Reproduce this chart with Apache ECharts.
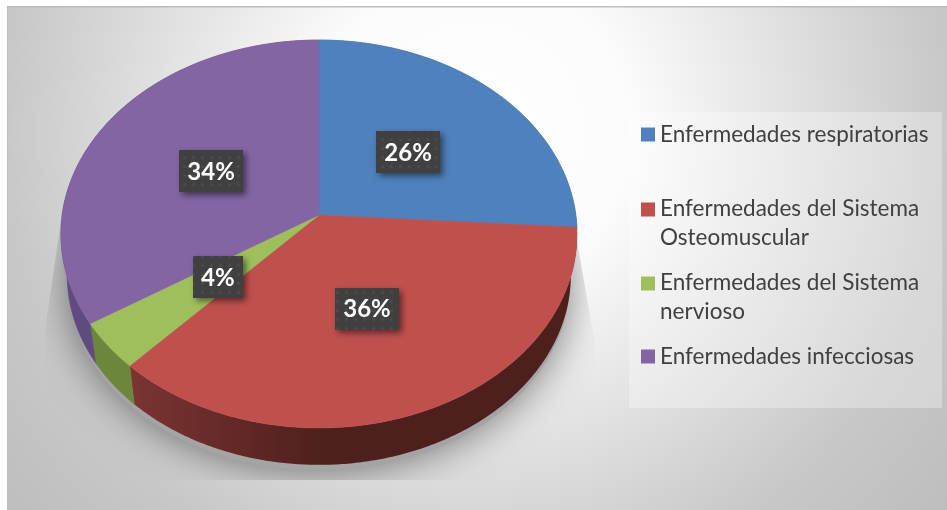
<!DOCTYPE html>
<html>
<head>
<meta charset="utf-8">
<style>
  html, body { margin: 0; padding: 0; background: #fff; }
  #chart { width: 947px; height: 510px; }
</style>
<script src="https://cdn.jsdelivr.net/npm/echarts@6/dist/echarts.min.js"></script>
</head>
<body>
<div id="chart"></div>
<script>
const categories = [
  'Enfermedades respiratorias',
  'Enfermedades del Sistema Osteomuscular',
  'Enfermedades del Sistema nervioso',
  'Enfermedades infecciosas'
]
const values = [26, 36, 4, 34]
const topColors = ['#4f81bd', '#c0504d', '#9fbf5d', '#8365a3']
const sideColors = ['#3a5f8c', '#4d1f1d', '#6c873c', '#5f4a82']

// perspective tilt of the disc: top face, then the rim below it
const cx = 319
const tilt = -0.098
const topRim = { cy: 215, a: 256.8, b: 192.1 }
const lowRim = { cy: 257, a: 250.6, b: 187.5 }
const labelNudge = [[-1.5, 1], [-1.5, 0], [1, -1], [2, 1]]

const total = values.reduce((s, v) => s + v, 0)

function project(rim, r, angle) {
  const x = r * Math.sin(angle)
  const y = -r * Math.cos(angle)
  const w = 1 + tilt * y
  return [cx + rim.a * x / w, rim.cy + rim.b * y / w]
}

function arcPoints(rim, from, to) {
  const steps = Math.max(2, Math.ceil((to - from) / 0.01))
  const pts = []
  for (let i = 0; i <= steps; i++) {
    pts.push(project(rim, 1, from + (to - from) * i / steps))
  }
  return pts
}

// dotted texture for the label boxes
function dotPattern() {
  const c = document.createElement('canvas')
  c.width = c.height = 9
  const g = c.getContext('2d')
  g.fillStyle = '#404040'
  g.fillRect(0, 0, 9, 9)
  g.fillStyle = '#4c4c4c'
  g.beginPath()
  g.arc(4.5, 4.5, 1.6, 0, Math.PI * 2)
  g.fill()
  return { image: c, repeat: 'repeat' }
}
const dots = dotPattern()

function sliceSeries(index) {
  const before = values.slice(0, index).reduce((s, v) => s + v, 0)
  const start = before / total * Math.PI * 2
  const end = (before + values[index]) / total * Math.PI * 2
  return {
    type: 'custom',
    name: categories[index],
    coordinateSystem: 'none',
    silent: true,
    itemStyle: { color: topColors[index] },
    data: [values[index]],
    renderItem() {
      const top = arcPoints(topRim, start, end)
      const low = arcPoints(lowRim, start, end).reverse()
      const mid = project(topRim, 0.5, (start + end) / 2)
      const labelX = mid[0] + labelNudge[index][0]
      const labelY = mid[1] + labelNudge[index][1]
      const labelWidth = values[index] < 10 ? 50 : 64
      const sideFill = index === 1
        ? { type: 'linear', x: 130, y: 0, x2: 330, y2: 0, global: true,
            colorStops: [{ offset: 0, color: '#7b3432' }, { offset: 1, color: sideColors[1] }] }
        : sideColors[index]
      return {
        type: 'group',
        children: [
          { type: 'polygon', z2: 1, shape: { points: top.concat(low) },
            style: { fill: sideFill, stroke: index === 1 ? null : sideColors[index], lineWidth: 0.5 } },
          { type: 'polygon', z2: 2, shape: { points: [[cx, topRim.cy]].concat(top) },
            style: { fill: topColors[index], stroke: topColors[index], lineWidth: 0.5 } },
          { type: 'rect', z2: 3,
            shape: { x: Math.round(labelX - labelWidth / 2), y: Math.round(labelY - 21), width: labelWidth, height: 42 },
            style: { fill: dots, shadowBlur: 6, shadowOffsetX: 3, shadowOffsetY: 3, shadowColor: 'rgba(0,0,0,0.5)' } },
          { type: 'text', z2: 4,
            style: { text: Math.round(values[index] / total * 100) + '%', x: labelX, y: labelY + 1,
              align: 'center', verticalAlign: 'middle', fill: '#fff',
              font: 'bold 24px Lato' } }
        ]
      }
    }
  }
}

// soft shadow under the disc, cut to a trapezoid like the original effect
const shadowSeries = {
  type: 'custom',
  coordinateSystem: 'none',
  silent: true,
  data: [0],
  renderItem() {
    return {
      type: 'polygon',
      z2: 0,
      shape: { points: arcPoints({ cy: 262, a: 250, b: 188 }, 0, Math.PI * 2) },
      style: { fill: '#a4a4a4', shadowBlur: 40, shadowColor: 'rgba(0,0,0,0.5)' },
      clipPath: { type: 'polygon', shape: { points: [[64, 200], [45, 330], [45, 480], [595, 480], [595, 345], [570, 200]] } }
    }
  }
}

const legendRows = [120, 194, 268, 342]
const chart = echarts.init(document.getElementById('chart'))
chart.setOption({
  animation: false,
  graphic: [
    { type: 'rect', z: -2, shape: { x: 7, y: 6, width: 940, height: 504 }, style: { fill: '#bcbcbc' } },
    { type: 'rect', z: -2, shape: { x: 8, y: 7.5, width: 939, height: 502.5 },
      style: { fill: { type: 'radial', x: 475, y: 130, r: 610, global: true,
        colorStops: [{ offset: 0, color: '#ffffff' }, { offset: 0.26, color: '#fbfbfb' }, { offset: 0.77, color: '#c8c8c8' }, { offset: 1, color: '#bdbdbd' }] } } },
    { type: 'rect', z: -1, shape: { x: 629, y: 112, width: 313, height: 296 }, style: { fill: 'rgba(255,255,255,0.3)' } }
  ],
  legend: categories.map((name, i) => {
    const twoLines = name.includes('Sistema')
    return {
      data: [name],
      left: 641,
      top: legendRows[i],
      padding: 0,
      selectedMode: false,
      itemWidth: 14,
      itemHeight: twoLines ? 41 : 14,
      icon: twoLines ? 'path://M0,0H14V14H0Z M0,41L14,41' : 'rect',
      formatter: n => n.replace('Sistema ', 'Sistema\n'),
      textStyle: { fontFamily: 'Lato', fontSize: 22.5, lineHeight: 29, color: '#404040' }
    }
  }),
  series: [shadowSeries].concat(categories.map((c, i) => sliceSeries(i)))
})
</script>
</body>
</html>
